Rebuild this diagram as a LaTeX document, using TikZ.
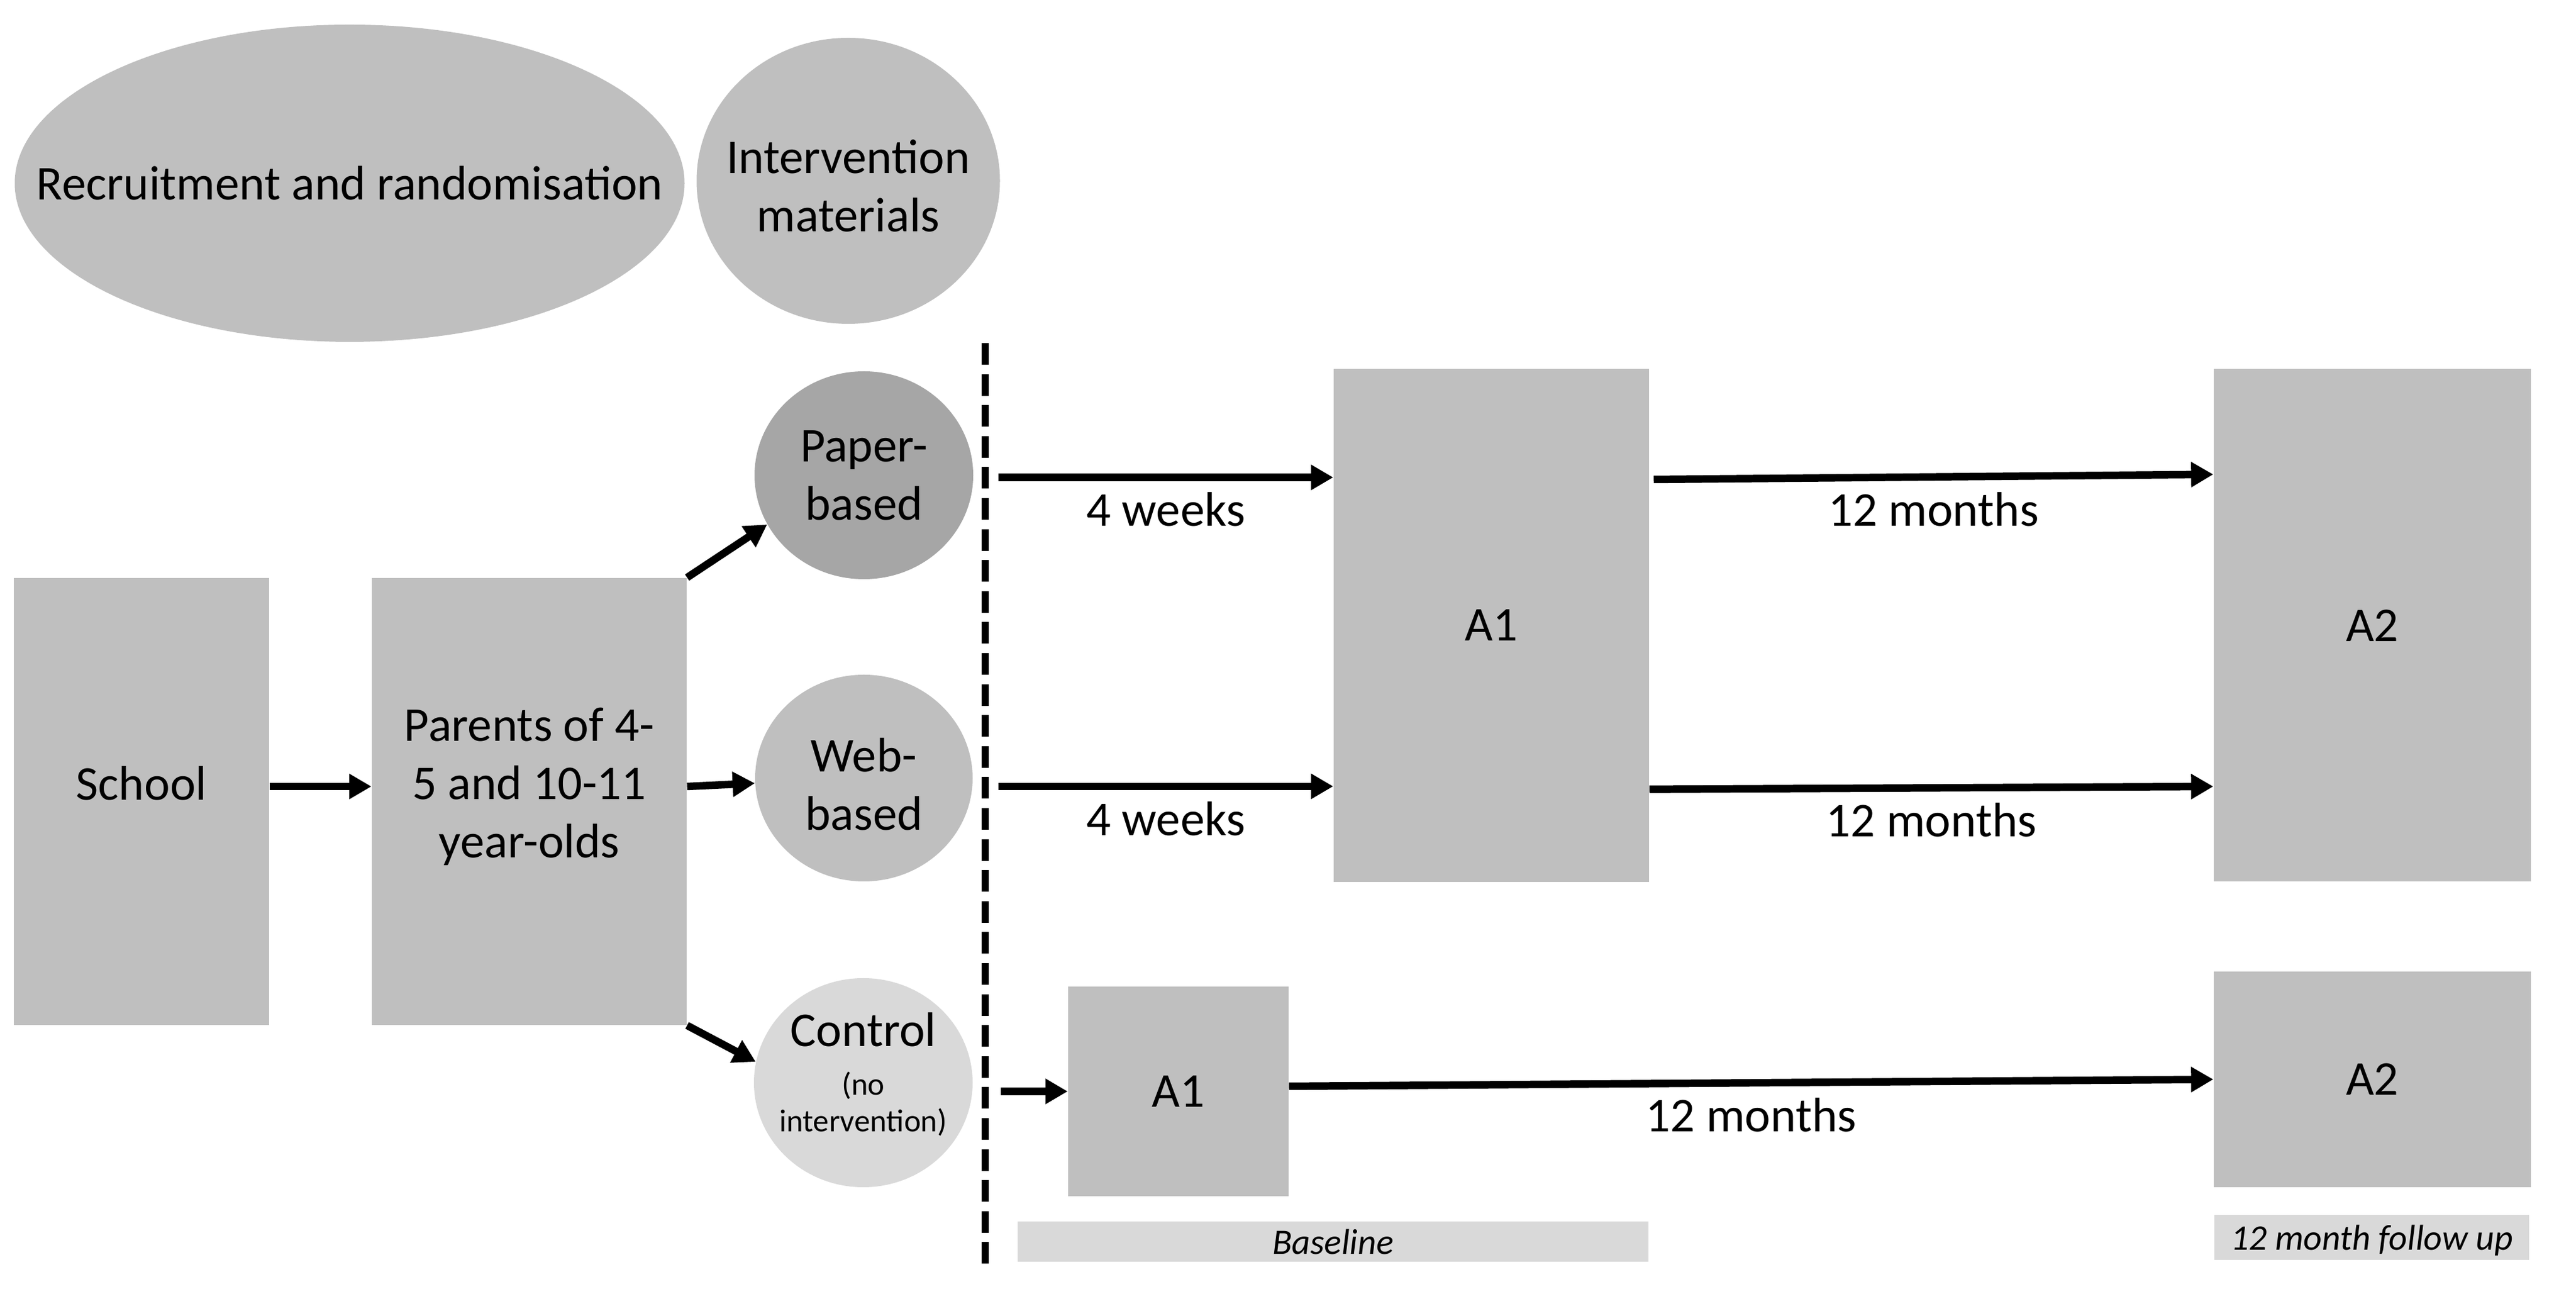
\documentclass[tikz,border=0pt]{standalone}
\usepackage{fontspec}
\setmainfont{Carlito}
\usetikzlibrary{shapes.geometric,arrows.meta}

\definecolor{gray65}{HTML}{A6A6A6}
\definecolor{gray75}{HTML}{BFBFBF}
\definecolor{gray85}{HTML}{D9D9D9}
\newcommand{\ctrlsmall}{\fontsize{15}{17.3}\selectfont}

\begin{document}
\begin{tikzpicture}[>={Triangle[length=3.7mm,width=4mm]},
  box/.style={rectangle, fill=#1, inner sep=0pt, align=center, font=\fontsize{23}{27.6}\selectfont},
  box/.default=gray75,
  oval/.style={ellipse, fill=#1, inner sep=0pt, inner xsep=-2cm, align=center, font=\fontsize{23}{27.6}\selectfont},
  oval/.default=gray75,
  bar/.style={rectangle, fill=gray85, inner sep=0pt, text depth=0pt, font=\fontsize{17}{20}\selectfont\itshape},
  arr/.style={->, line width=3.55pt},
  lbl/.style={midway, below, inner sep=0.19cm, font=\fontsize{23}{27.6}\selectfont}]

\useasboundingbox (0,0) rectangle (42.88,21.82);

% Етапи
\node[oval, minimum width=11.15cm, minimum height=5.28cm] (recruit) at (5.82,18.77) {Recruitment and randomisation};
\node[oval, minimum width=5.05cm, minimum height=4.76cm, text height=1.70cm] (materials) at (14.12,18.81) {Intervention\\materials};

% Учасники
\node[box, minimum width=4.25cm, minimum height=7.44cm, text height=0.58cm, text depth=0.62cm] (school) at (2.355,8.48) {School};
\node[box, minimum width=5.24cm, minimum height=7.44cm, text depth=0.62cm] (parents) at (8.81,8.48) {Parents of 4-\\5 and 10-11\\year-olds};

% Групи
\node[oval=gray65, minimum width=3.64cm, minimum height=3.46cm] (paper) at (14.38,13.91) {Paper-\\based};
\node[oval, minimum width=3.62cm, minimum height=3.44cm, text height=1.74cm] (web) at (14.38,8.87) {Web-\\based};
\node[oval=gray85, minimum width=3.64cm, minimum height=3.48cm, text depth=0.35cm] (control) at (14.37,3.80) {Control\\[-4.7pt]{\ctrlsmall (no}\\[-10.3pt]{\ctrlsmall intervention)}};

% Вимірювання
\node[box, minimum width=5.25cm, minimum height=8.54cm] (a1) at (24.825,11.41) {A1};
\node[box, minimum width=5.28cm, minimum height=8.53cm] (a2) at (39.49,11.41) {A2};
\node[box, minimum width=3.67cm, minimum height=3.49cm] (a1s) at (19.615,3.655) {A1};
\node[box, minimum width=5.28cm, minimum height=3.59cm] (a2s) at (39.49,3.855) {A2};

% Підписи етапів
\node[bar, minimum width=10.5cm, minimum height=0.67cm] (baseline) at (22.19,1.155) {Baseline};
\node[bar, minimum width=5.24cm, minimum height=0.75cm] (followup) at (39.48,1.225) {12 month follow up};

% Межа
\coordinate (divtop) at (16.40,16.11);
\coordinate (divbot) at (16.40,0.72);
\draw[line width=0.125cm, dash pattern=on 0.36cm off 0.156cm] (divtop) -- (divbot);

% Стрілки
\draw[arr] ([yshift=0.25cm]school.east) -- ([yshift=0.25cm]parents.west);
\draw[arr] (parents.north east) -- (paper.207);
\draw[arr] ([yshift=0.25cm]parents.east) -- (web);
\draw[arr] (parents.south east) -- (control.169);

\coordinate (wk1) at (16.62,13.874);
\coordinate (wk2) at (16.62,8.732);
\coordinate (ctl) at (16.66,3.655);

\foreach \w in {wk1,wk2} {
  \draw[arr] (\w) -- (\w -| a1.west) node[lbl] (lbl\w) {4 weeks};
}

\draw[arr] ([xshift=0.07cm,yshift=2.43cm]a1.east) -- ([yshift=2.514cm]a2.west) node[lbl] (lbltop) {12 months};
\draw[arr] ([yshift=-2.727cm]a1.east) -- ([yshift=-2.68cm]a2.west) node[lbl] (lblmid) {12 months};
\draw[arr] (ctl) -- (a1s.west);
\draw[arr] ([yshift=0.085cm]a1s.east) -- (a2s.west) node[lbl] (lblbot) {12 months};

\end{tikzpicture}
\end{document}
